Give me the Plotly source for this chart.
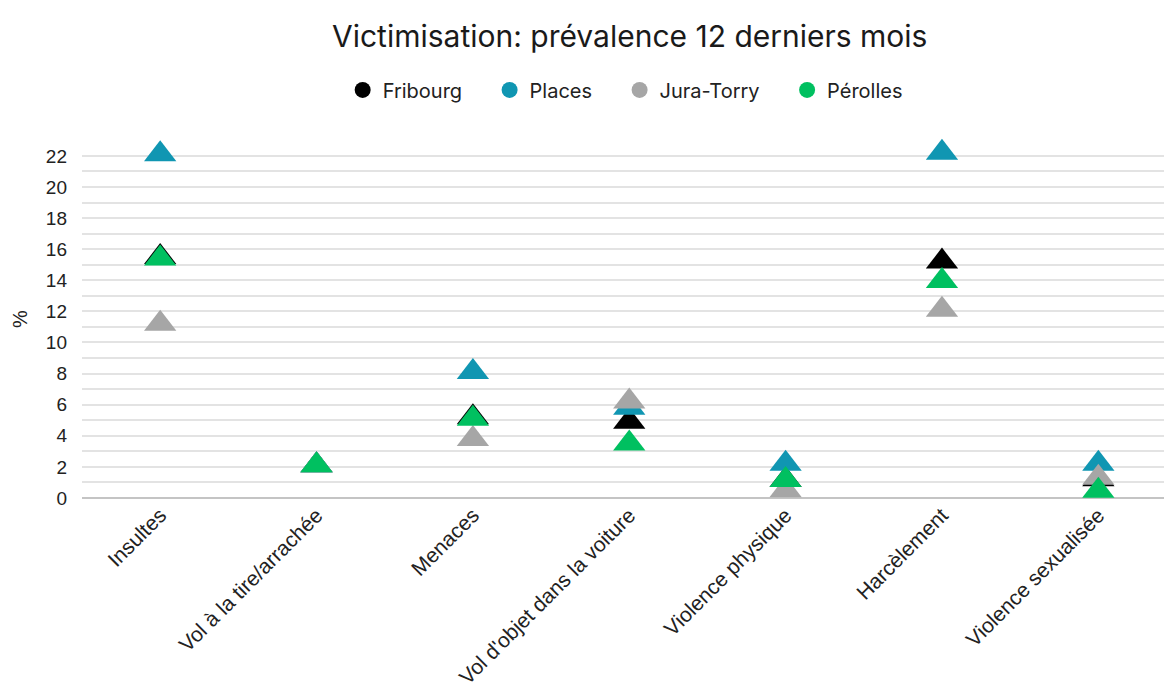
import plotly.graph_objects as go

categories = [
    "Insultes",
    "Vol à la tire/arrachée",
    "Menaces",
    "Vol d'objet dans la voiture",
    "Violence physique",
    "Harcèlement",
    "Violence sexualisée",
]

fribourg = [15.5, 2.1, 5.2, 4.9, 1.15, 15.2, 1.2]
places = [22.1, 2.1, 8.1, 5.8, 2.2, 22.2, 2.2]
jura_torry = [11.2, 2.1, 3.8, 6.2, 0.5, 12.1, 1.3]
perolles = [15.4, 2.1, 5.1, 3.5, 1.15, 13.95, 0.47]

series = [
    ("Fribourg", fribourg, "#000000"),
    ("Places", places, "#1096B2"),
    ("Jura-Torry", jura_torry, "#A6A6A6"),
    ("Pérolles", perolles, "#00C060"),
]

AXIS_FONT = "Liberation Sans, Arial, sans-serif"
PAD = "\u00a0" * 4

fig = go.Figure()

for name, values, color in series:
    fig.add_trace(go.Scatter(
        x=categories,
        y=values,
        mode="markers",
        name=name,
        showlegend=False,
        cliponaxis=False,
        marker=dict(symbol="triangle-up", size=28, color=color,
                    line=dict(width=0)),
        hovertemplate="%{x}: %{y}%<extra>" + name + "</extra>",
    ))

# circular swatches for the legend
for i, (name, values, color) in enumerate(series):
    label = name + (PAD if i < len(series) - 1 else "")
    fig.add_trace(go.Scatter(
        x=[None], y=[None], mode="markers", name=label,
        marker=dict(symbol="circle", size=18, color=color),
        showlegend=True, hoverinfo="skip",
    ))

fig.update_layout(
    width=1164,
    height=693,
    paper_bgcolor="white",
    plot_bgcolor="white",
    margin=dict(l=82, r=0, t=140, b=195),
    font=dict(family="Inter, Roboto, sans-serif", color="#222222"),
    title=dict(
        text="Victimisation: prévalence 12 derniers mois",
        x=0.541, xanchor="center",
        y=0.948, yanchor="middle",
        font=dict(size=30, color="#1a1a1a", family="Inter, Roboto, sans-serif"),
    ),
    legend=dict(
        orientation="h",
        x=0.502, xanchor="center",
        y=1.14, yanchor="middle",
        font=dict(size=20, color="#222222"),
        itemwidth=30,
        tracegroupgap=0,
    ),
    xaxis=dict(
        type="category",
        categoryorder="array",
        categoryarray=categories,
        range=[-0.5, 6.42],
        showgrid=False,
        zeroline=False,
        showline=False,
        tickangle=-45,
        tickfont=dict(size=21, family=AXIS_FONT, color="#222222"),
        ticks="",
    ),
    yaxis=dict(
        range=[0, 23.02],
        dtick=2,
        tick0=0,
        showgrid=True,
        gridcolor="#e3e3e3",
        gridwidth=1.5,
        zeroline=True,
        zerolinecolor="#c4c4c4",
        zerolinewidth=1.5,
        showline=False,
        ticks="",
        ticklabelstandoff=14,
        tickfont=dict(size=19, family=AXIS_FONT, color="#222222"),
        title=dict(text="%", font=dict(size=20, family=AXIS_FONT, color="#222222"), standoff=12),
        minor=dict(dtick=1, showgrid=True, gridcolor="#e3e3e3", gridwidth=1.5),
    ),
)

fig.write_html("out.html")
